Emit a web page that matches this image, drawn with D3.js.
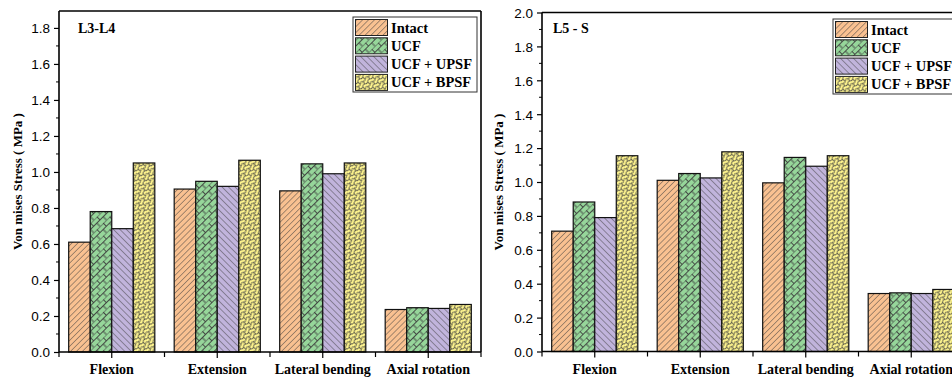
<!DOCTYPE html>
<html>
<head>
<meta charset="utf-8">
<script src="https://cdn.jsdelivr.net/npm/d3@7"></script>
<style>
  html, body { margin: 0; padding: 0; background: #fff; }
  svg { display: block; }
  .tick text { font-family: "Liberation Sans", Arial, sans-serif; font-size: 13.5px; fill: #000; }
  .serif { font-family: "Liberation Serif", "Times New Roman", serif; font-weight: bold; fill: #000; }
</style>
</head>
<body>
<svg id="chart" width="952" height="379"></svg>
<script>
// Loading cases and implant configurations
const categories = ["Flexion", "Extension", "Lateral bending", "Axial rotation"];
const seriesNames = ["Intact", "UCF", "UCF + UPSF", "UCF + BPSF"];

// Von Mises stress (MPa), L3-L4 segment
const l3l4Intact = [0.61, 0.905, 0.895, 0.236];
const l3l4UCF    = [0.78, 0.948, 1.045, 0.246];
const l3l4UPSF   = [0.685, 0.92, 0.99, 0.242];
const l3l4BPSF   = [1.05, 1.065, 1.05, 0.264];

// Von Mises stress (MPa), L5-S segment
const l5sIntact = [0.71, 1.01, 0.995, 0.342];
const l5sUCF    = [0.882, 1.05, 1.145, 0.346];
const l5sUPSF   = [0.79, 1.024, 1.093, 0.342];
const l5sBPSF   = [1.155, 1.178, 1.155, 0.366];

// Axis tick values
const leftTicks  = [0, 0.2, 0.4, 0.6, 0.8, 1.0, 1.2, 1.4, 1.6, 1.8];
const rightTicks = [0, 0.2, 0.4, 0.6, 0.8, 1.0, 1.2, 1.4, 1.6, 1.8, 2.0];

const fills = ["#f9c191", "#96d69a", "#c1b4dc", "#fff58e"];
const hatch = "#3c3c3c";

const svg = d3.select("#chart");
const defs = svg.append("defs");

// Hatch patterns for each configuration
function makePatterns() {
  // Intact: forward diagonal lines
  let p = defs.append("pattern").attr("id", "pat0").attr("patternUnits", "userSpaceOnUse")
    .attr("width", 4.2).attr("height", 10).attr("patternTransform", "rotate(45)");
  p.append("rect").attr("width", 4.2).attr("height", 10).attr("fill", fills[0]);
  p.append("line").attr("x1", 0).attr("y1", 0).attr("x2", 0).attr("y2", 10)
    .attr("stroke", hatch).attr("stroke-width", 0.9);

  // UCF: diagonal brick weave
  p = defs.append("pattern").attr("id", "pat1").attr("patternUnits", "userSpaceOnUse")
    .attr("width", 9).attr("height", 9).attr("patternTransform", "rotate(45)");
  p.append("rect").attr("width", 9).attr("height", 9).attr("fill", fills[1]);
  p.append("path")
    .attr("d", "M0,0V9M4.5,0V9M0,0.5H4.5M4.5,5H9")
    .attr("stroke", hatch).attr("stroke-width", 0.9).attr("fill", "none");

  // UCF + UPSF: back diagonal lines
  p = defs.append("pattern").attr("id", "pat2").attr("patternUnits", "userSpaceOnUse")
    .attr("width", 4.6).attr("height", 10).attr("patternTransform", "rotate(-45)");
  p.append("rect").attr("width", 4.6).attr("height", 10).attr("fill", fills[2]);
  p.append("line").attr("x1", 0).attr("y1", 0).attr("x2", 0).attr("y2", 10)
    .attr("stroke", hatch).attr("stroke-width", 0.9);

  // UCF + BPSF: chain lattice
  p = defs.append("pattern").attr("id", "pat3").attr("patternUnits", "userSpaceOnUse")
    .attr("width", 7).attr("height", 7).attr("patternTransform", "rotate(45)");
  p.append("rect").attr("width", 7).attr("height", 7).attr("fill", fills[3]);
  p.append("path")
    .attr("d", "M0,0Q1.8,1.75 0,3.5Q-1.8,5.25 0,7M3.5,0Q5.3,1.75 3.5,3.5Q1.7,5.25 3.5,7M7,0Q8.8,1.75 7,3.5Q5.2,5.25 7,7M0,0.3H3.5M3.5,3.8H7")
    .attr("stroke", hatch).attr("stroke-width", 0.85).attr("fill", "none");
}
makePatterns();

function drawPanel(cfg) {
  const g = svg.append("g");
  const y = d3.scaleLinear().domain(cfg.yDomain).range([cfg.bottom, cfg.top]);
  const x0 = d3.scaleBand().domain(categories).range([cfg.left, cfg.left + cfg.bandTotal]).padding(0);
  const x1 = d3.scaleBand().domain(seriesNames).range([0, x0.bandwidth()])
    .paddingInner(0).paddingOuter(0.45);

  const clipId = "clip" + cfg.id;
  defs.append("clipPath").attr("id", clipId).append("rect")
    .attr("x", 0).attr("y", 0).attr("width", 952).attr("height", 379);

  // Bars
  const rows = categories.map((c, i) => ({ cat: c, vals: cfg.values.map(v => v[i]) }));
  const grp = g.append("g").attr("clip-path", `url(#${clipId})`)
    .selectAll("g").data(rows).join("g")
    .attr("transform", d => `translate(${x0(d.cat)},0)`);
  grp.selectAll("rect").data(d => d.vals.map((v, k) => ({ k, v }))).join("rect")
    .attr("x", d => x1(seriesNames[d.k]))
    .attr("y", d => y(d.v))
    .attr("width", x1.bandwidth())
    .attr("height", d => y(0) - y(d.v))
    .attr("fill", d => `url(#pat${d.k})`)
    .attr("stroke", "#111").attr("stroke-width", 1.2);

  // Minor y ticks
  const minor = d3.range(0.1, cfg.yDomain[1], 0.2);
  g.selectAll(".minor").data(minor).join("line")
    .attr("x1", cfg.left - 3).attr("x2", cfg.left)
    .attr("y1", d => y(d)).attr("y2", d => y(d))
    .attr("stroke", "#000").attr("stroke-width", 1);

  // Y axis
  const yAxis = d3.axisLeft(y).tickValues(cfg.ticks).tickFormat(d3.format(".1f"))
    .tickSize(5).tickSizeOuter(0).tickPadding(4);
  const ya = g.append("g").attr("transform", `translate(${cfg.left},0)`).call(yAxis);
  ya.select(".domain").remove();
  ya.selectAll(".tick line").attr("stroke", "#000").attr("stroke-width", 1.2);
  ya.selectAll(".tick text").attr("dy", "0.36em");

  // Frame lines: left axis, bottom axis, top border, optional right border
  const right = cfg.left + cfg.bandTotal;
  g.append("line").attr("x1", cfg.left).attr("x2", cfg.left).attr("y1", cfg.top).attr("y2", cfg.bottom)
    .attr("stroke", "#000").attr("stroke-width", 1.6);
  g.append("line").attr("x1", cfg.left).attr("x2", Math.min(right, 952)).attr("y1", cfg.bottom).attr("y2", cfg.bottom)
    .attr("stroke", "#000").attr("stroke-width", 1.6);
  g.append("line").attr("x1", cfg.left).attr("x2", Math.min(right, 952)).attr("y1", cfg.top).attr("y2", cfg.top)
    .attr("stroke", "#000").attr("stroke-width", 1.4);
  if (right <= 952) {
    g.append("line").attr("x1", right).attr("x2", right).attr("y1", cfg.top).attr("y2", cfg.bottom)
      .attr("stroke", "#000").attr("stroke-width", 1.6);
  }

  // X ticks at category centres and boundaries
  const centres = categories.map(c => x0(c) + x0.bandwidth() / 2);
  const bounds = categories.map(c => x0(c)).concat([right]).filter(v => v <= 952);
  g.selectAll(".xc").data(centres).join("line")
    .attr("x1", d => d).attr("x2", d => d).attr("y1", cfg.bottom).attr("y2", cfg.bottom + 6)
    .attr("stroke", "#000").attr("stroke-width", 1.2);
  g.selectAll(".xb").data(bounds).join("line")
    .attr("x1", d => d).attr("x2", d => d).attr("y1", cfg.bottom).attr("y2", cfg.bottom + 5)
    .attr("stroke", "#000").attr("stroke-width", 1.2);

  // Category labels
  g.selectAll(".xl").data(categories).join("text")
    .attr("class", "serif")
    .attr("x", d => x0(d) + x0.bandwidth() / 2)
    .attr("y", 374)
    .attr("text-anchor", "middle")
    .attr("font-size", "14px")
    .text(d => d);

  // Y axis title
  g.append("text").attr("class", "serif")
    .attr("transform", `translate(${cfg.titleX},${(cfg.top + cfg.bottom) / 2}) rotate(-90)`)
    .attr("text-anchor", "middle")
    .attr("font-size", "13px")
    .text("Von mises Stress ( MPa )");

  // Panel label
  g.append("text").attr("class", "serif")
    .attr("x", cfg.labelX).attr("y", 33)
    .attr("font-size", "14px")
    .text(cfg.label);

  // Legend
  const lg = g.append("g").attr("transform", `translate(${cfg.legendX},${cfg.legendY})`);
  lg.append("rect").attr("x", 0).attr("y", 0).attr("width", 124).attr("height", 75)
    .attr("fill", "#fff").attr("stroke", "#333").attr("stroke-width", 1);
  seriesNames.forEach((s, k) => {
    const yy = 2.5 + k * 18.3;
    lg.append("rect").attr("x", 2.5).attr("y", yy).attr("width", 32).attr("height", 16)
      .attr("fill", `url(#pat${k})`).attr("stroke", "#222").attr("stroke-width", 1);
    lg.append("text").attr("class", "serif")
      .attr("x", 38).attr("y", yy + 13)
      .attr("font-size", "14.5px")
      .text(s);
  });
}

drawPanel({
  id: "a", label: "L3-L4", labelX: 78, left: 59, bandTotal: 422, top: 11, bottom: 352,
  yDomain: [0, 1.894], ticks: leftTicks, titleX: 22,
  values: [l3l4Intact, l3l4UCF, l3l4UPSF, l3l4BPSF],
  legendX: 353, legendY: 17
});

drawPanel({
  id: "b", label: "L5 - S", labelX: 553, left: 542, bandTotal: 422, top: 12.5, bottom: 351.5,
  yDomain: [0, 2.0], ticks: rightTicks, titleX: 503,
  values: [l5sIntact, l5sUCF, l5sUPSF, l5sBPSF],
  legendX: 833, legendY: 19
});
</script>
</body>
</html>
